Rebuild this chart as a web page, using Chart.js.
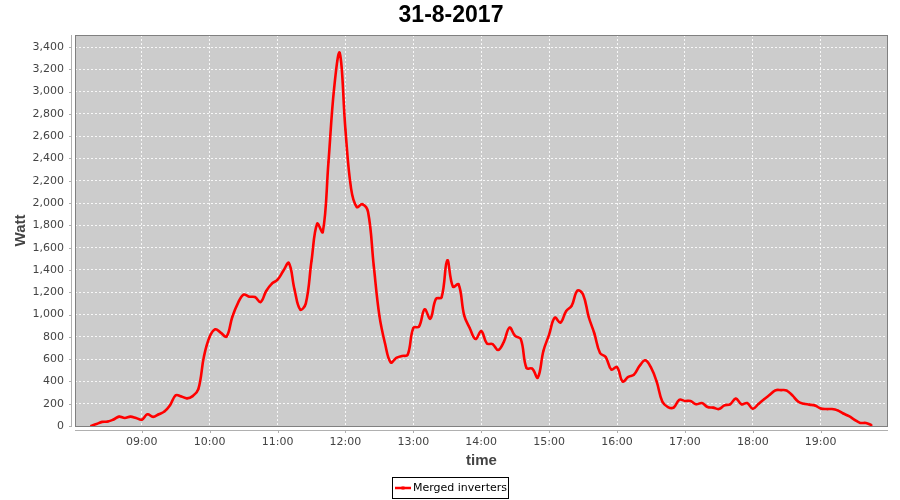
<!DOCTYPE html>
<html lang="en">
<head>
    <meta charset="UTF-8">
    <title>31-8-2017</title>
    <script src="https://cdn.jsdelivr.net/npm/chart.js"></script>
    <style>
        body { margin: 0; background: #fff; }
        #wrap { width: 900px; height: 500px; }
    </style>
</head>
<body>
<div id="wrap"><canvas id="chart" width="900" height="500"></canvas></div>
<script>
// sample times (every 5 minutes) and merged power in Watt
const sampleTimes = [
    '08:15','08:20','08:25','08:30','08:35','08:40','08:45','08:50','08:55',
    '09:00','09:05','09:10','09:15','09:20','09:25','09:30','09:35','09:40','09:45','09:50','09:55',
    '10:00','10:05','10:10','10:15','10:20','10:25','10:30','10:35','10:40','10:45','10:50','10:55',
    '11:00','11:05','11:10','11:15','11:20','11:25','11:30','11:35','11:40','11:45','11:50','11:55',
    '12:00','12:05','12:10','12:15','12:20','12:25','12:30','12:35','12:40','12:45','12:50','12:55',
    '13:00','13:05','13:10','13:15','13:20','13:25','13:30','13:35','13:40','13:45','13:50','13:55',
    '14:00','14:05','14:10','14:15','14:20','14:25','14:30','14:35','14:40','14:45','14:50','14:55',
    '15:00','15:05','15:10','15:15','15:20','15:25','15:30','15:35','15:40','15:45','15:50','15:55',
    '16:00','16:05','16:10','16:15','16:20','16:25','16:30','16:35','16:40','16:45','16:50','16:55',
    '17:00','17:05','17:10','17:15','17:20','17:25','17:30','17:35','17:40','17:45','17:50','17:55',
    '18:00','18:05','18:10','18:15','18:20','18:25','18:30','18:35','18:40','18:45','18:50','18:55',
    '19:00','19:05','19:10','19:15','19:20','19:25','19:30','19:35','19:40','19:45'
];
const wattValues = [
    0, 18, 37, 40, 58, 84, 72, 84, 72,
    57, 105, 82, 105, 130, 186, 275, 265, 248, 268, 330, 625,
    800, 868, 835, 803, 978, 1103, 1179, 1160, 1157, 1112, 1211, 1277,
    1313, 1390, 1462, 1225, 1045, 1100, 1480, 1815, 1740, 2368, 3030, 3346,
    2660, 2130, 1965, 1990, 1920, 1440, 990, 740, 570, 612, 628, 640,
    880, 892, 1047, 963, 1140, 1155, 1486, 1250, 1271, 990, 875, 780,
    852, 740, 735, 682, 755, 883, 808, 780, 520, 515, 434, 675,
    820, 972, 928, 1030, 1080, 1215, 1180, 978, 830, 655, 619, 506,
    529, 400, 440, 461, 540, 590, 525, 400, 220, 170, 165, 235,
    225, 224, 195, 206, 170, 165, 152, 185, 195, 246, 195, 206,
    155, 198, 240, 280, 320, 322, 318, 275, 220, 200, 192, 183,
    158, 152, 152, 140, 112, 88, 56, 28, 27, 8
];
const hourLabels = ['09:00','10:00','11:00','12:00','13:00','14:00','15:00','16:00','17:00','18:00','19:00'];
const yTickValues = [0,200,400,600,800,1000,1200,1400,1600,1800,2000,2200,2400,2600,2800,3000,3200,3400];
const seriesName = 'Merged inverters';

function toMinutes(s) {
    const p = s.split(':');
    return (+p[0]) * 60 + (+p[1]);
}
const hourTicks = hourLabels.map(toMinutes);
const points = sampleTimes.map((t, i) => ({ x: toMinutes(t), y: wattValues[i] }));

const tickFont = { family: 'DejaVu Sans', size: 11 };
const tickColor = '#444';

const jfreeLook = {
    id: 'jfreeLook',
    beforeDraw(chart) {
        const { ctx, chartArea: a } = chart;
        ctx.save();
        ctx.fillStyle = '#fff';
        ctx.fillRect(0, 0, chart.width, chart.height);
        ctx.fillStyle = '#cccccc';
        ctx.fillRect(a.left, a.top, a.right - a.left, a.bottom - a.top);
        ctx.restore();
    },
    beforeDatasetsDraw(chart) {
        const { ctx, chartArea: a, scales } = chart;
        ctx.save();
        // plot outline
        ctx.strokeStyle = '#808080';
        ctx.lineWidth = 1;
        ctx.strokeRect(a.left + 0.5, a.top + 0.5, a.right - a.left - 1, a.bottom - a.top);
        // offset axis lines
        ctx.strokeStyle = '#b0b0b0';
        ctx.beginPath();
        ctx.moveTo(a.left - 3.5, a.top);
        ctx.lineTo(a.left - 3.5, a.bottom + 1);
        ctx.moveTo(a.left, a.bottom + 4.5);
        ctx.lineTo(a.right, a.bottom + 4.5);
        yTickValues.forEach(v => {
            const y = Math.round(scales.y.getPixelForValue(v)) + 0.5;
            ctx.moveTo(a.left - 6, y);
            ctx.lineTo(a.left - 3, y);
        });
        hourTicks.forEach(v => {
            const x = Math.round(scales.x.getPixelForValue(v)) + 0.5;
            ctx.moveTo(x, a.bottom + 5);
            ctx.lineTo(x, a.bottom + 7);
        });
        ctx.stroke();
        ctx.restore();
    },
    afterDraw(chart) {
        const { ctx, chartArea: a } = chart;
        ctx.save();
        // title
        ctx.fillStyle = '#000';
        ctx.font = 'bold 23px "Liberation Sans"';
        ctx.textAlign = 'center';
        ctx.textBaseline = 'alphabetic';
        ctx.fillText('31-8-2017', 451, 22);
        // axis titles
        ctx.fillStyle = '#444';
        ctx.font = 'bold 15px "Liberation Sans"';
        ctx.fillText('time', (a.left + a.right) / 2, 465);
        ctx.save();
        ctx.translate(25, (a.top + a.bottom) / 2);
        ctx.rotate(-Math.PI / 2);
        ctx.fillText('Watt', 0, 0);
        ctx.restore();
        // legend
        ctx.strokeStyle = '#000';
        ctx.lineWidth = 1;
        ctx.strokeRect(392.5, 477.5, 116, 21);
        ctx.strokeStyle = 'red';
        ctx.lineWidth = 2.5;
        ctx.beginPath();
        ctx.moveTo(395, 488);
        ctx.lineTo(411, 488);
        ctx.stroke();
        ctx.fillStyle = 'red';
        ctx.fillRect(401.5, 486.5, 3, 3);
        ctx.fillStyle = '#000';
        ctx.font = '11px "DejaVu Sans"';
        ctx.textAlign = 'left';
        ctx.textBaseline = 'middle';
        ctx.fillText(seriesName, 413, 488.5);
        ctx.restore();
    }
};

new Chart(document.getElementById('chart'), {
    type: 'line',
    data: {
        datasets: [{
            label: seriesName,
            data: points,
            borderColor: '#ff0000',
            backgroundColor: '#ff0000',
            borderWidth: 2.6,
            tension: 0.4,
            pointStyle: 'rect',
            pointRadius: 1.2,
            pointBorderWidth: 0,
            fill: false
        }]
    },
    options: {
        responsive: false,
        animation: false,
        layout: { padding: { top: 35, right: 12, bottom: 0, left: 0 } },
        plugins: {
            legend: { display: false },
            title: { display: false },
            tooltip: { enabled: false }
        },
        scales: {
            x: {
                type: 'linear',
                min: 481,
                max: 1199.5,
                afterFit(s) { s.height = 74; },
                afterBuildTicks(s) { s.ticks = hourTicks.map(v => ({ value: v })); },
                grid: { color: 'rgba(255,255,255,0.85)', lineWidth: 1, drawTicks: false },
                border: { display: false, dash: [2, 2] },
                ticks: {
                    padding: 10,
                    maxRotation: 0,
                    autoSkip: false,
                    font: tickFont,
                    color: tickColor,
                    callback: v => hourLabels[hourTicks.indexOf(v)]
                }
            },
            y: {
                min: 0,
                max: 3508,
                afterFit(s) { s.width = 75; },
                afterBuildTicks(s) { s.ticks = yTickValues.map(v => ({ value: v })); },
                grid: { color: 'rgba(255,255,255,0.85)', lineWidth: 1, drawTicks: false },
                border: { display: false, dash: [2, 2] },
                ticks: {
                    padding: 11,
                    autoSkip: false,
                    font: tickFont,
                    color: tickColor,
                    callback: v => v.toLocaleString('en-US')
                }
            }
        }
    },
    plugins: [jfreeLook]
});
</script>
</body>
</html>
